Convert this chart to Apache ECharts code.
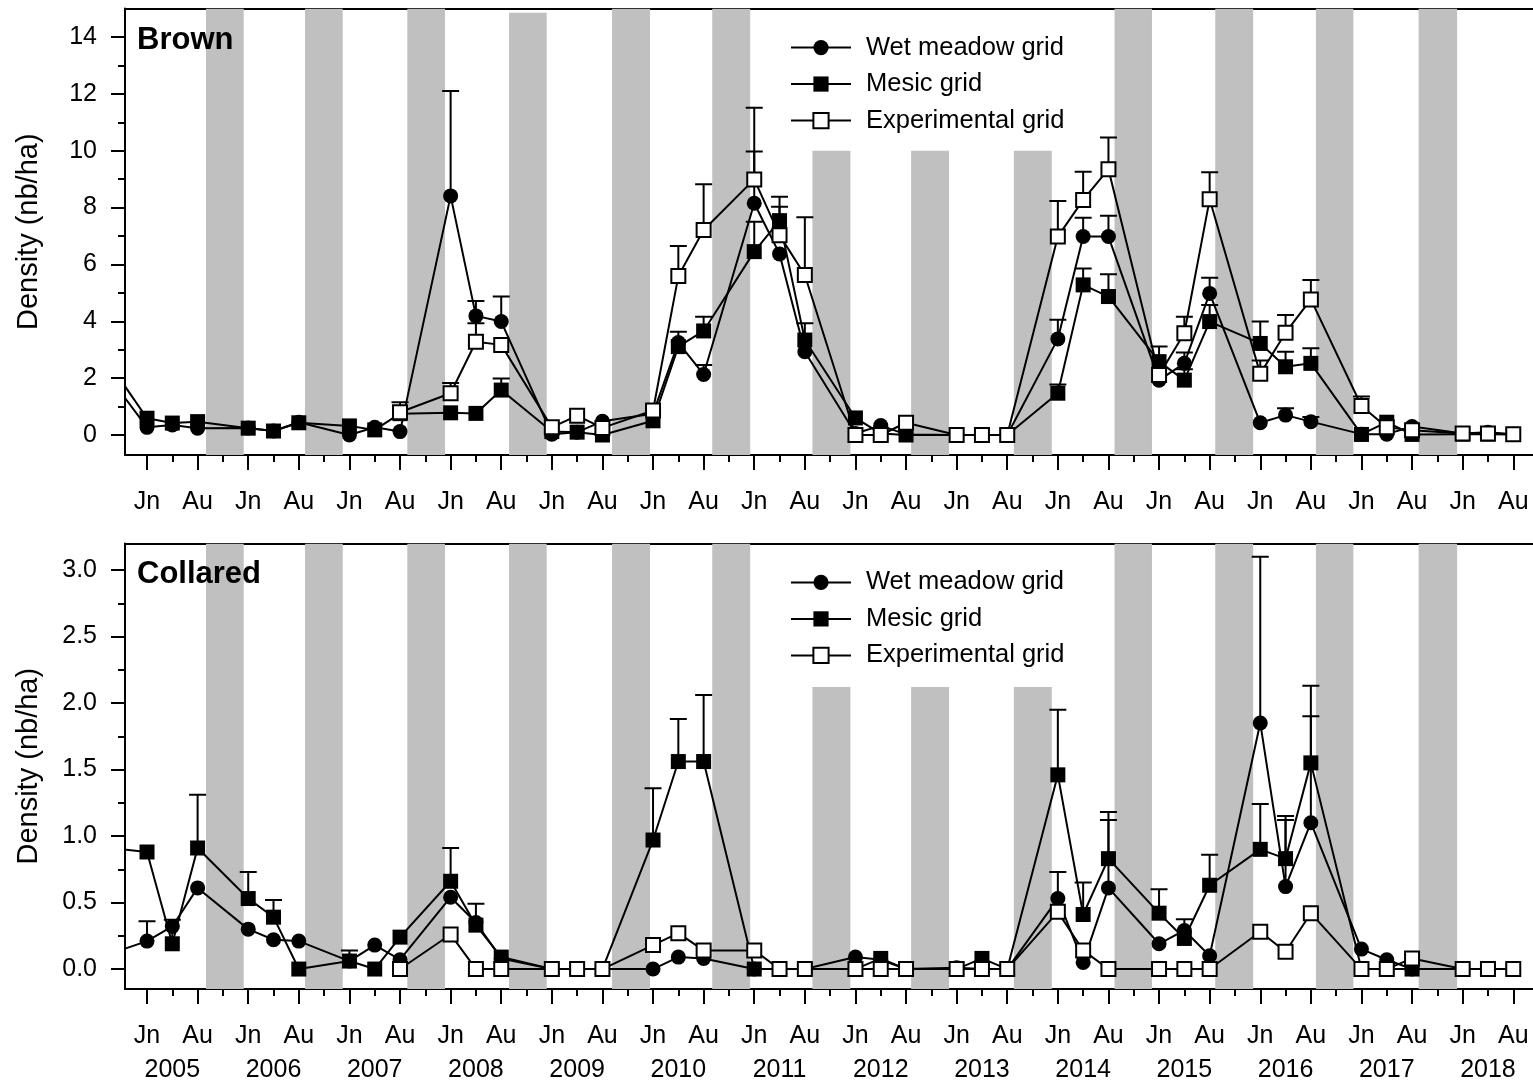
<!DOCTYPE html>
<html><head><meta charset="utf-8">
<script src="https://cdn.jsdelivr.net/npm/echarts@6/dist/echarts.min.js"></script>
<style>html,body{margin:0;padding:0;background:#fff}#c{width:1533px;height:1083px}</style>
</head><body><div id="c"></div>
<script>
// ---------------- DATA ----------------
const years = [2005,2006,2007,2008,2009,2010,2011,2012,2013,2014,2015,2016,2017,2018];
const seasons = ['Jn','Jl','Au'];
const seasonOffset = [0, 0.5, 1];      // position of each sampling session within a year slot
const monthLabels = ['Jn','Au'];
const seriesNames = ['Wet meadow grid','Mesic grid','Experimental grid'];
const panelNames = ['Brown','Collared'];

// first value = Aug 2004 (off the left edge), then Jn, Jl, Au for 2005..2018
const brownWet = [2.64, 0.27,0.35,0.24, 0.25,0.14,0.45, 0.0,0.27,0.12, 8.41,4.19,3.99, 0.03,0.1,0.48, 0.75,3.25,2.13, 8.15,6.37,2.93, 0.05,0.33,0.02, 0,0,0, 3.38,6.98,6.98, 1.93,2.52,4.98, 0.43,0.7,0.47, 0.03,0.03,0.3, 0.05,0.1,0.03];
const brownWetErr = [null, null,null,null, null,null,null, null,null,null, 12.1,4.71,4.87, null,null,null, null,3.63,2.46, 9.97,null,null, null,null,null, null,null,null, 4.05,7.64,7.71, null,2.9,5.53, null,0.94,0.63, null,null,null, null,null,null];
const brownMesic = [3.17, 0.59,0.42,0.47, 0.24,0.14,0.43, 0.32,0.18,0.75, 0.78,0.76,1.58, 0.12,0.1,0.0, 0.5,3.11,3.66, 6.45,7.54,3.34, 0.6,0.05,0.0, 0,0,0, 1.47,5.28,4.87, 2.58,1.93,3.99, 3.22,2.4,2.52, 0.02,0.45,0.02, 0.03,0.03,0.02];
const brownMesicErr = [null, null,null,null, null,null,null, null,null,null, null,null,1.99, null,null,null, null,null,4.16, 7.5,8.38,3.93, null,null,null, null,null,null, 1.78,5.86,5.65, 3.11,2.31,4.57, 3.99,2.93,3.05, null,null,null, null,null,null];
const brownExp = [null, null,null,null, null,null,null, null,null,0.8, 1.47,3.28,3.17, 0.27,0.68,0.25, 0.86,5.59,7.21, 8.99,7.03,5.63, 0,0,0.43, 0,0,0, 6.98,8.27,9.35, 2.11,3.58,8.29, 2.15,3.6,4.77, 1.02,0.27,0.17, 0.05,0.05,0.03];
const brownExpErr = [null, null,null,null, null,null,null, null,null,1.15, 1.83,3.93,null, null,null,null, null,6.65,8.82, 11.51,8.03,7.66, null,null,null, null,null,null, 8.23,9.26,10.46, null,4.16,9.24, 2.62,4.22,5.45, 1.35,null,null, null,null,null];

const collWet = [0.08, 0.21,0.32,0.61, 0.3,0.22,0.21, 0.06,0.18,0.07, 0.54,0.35,0.08, 0,0,0, 0,0.09,0.08, 0,0,0, 0.09,0.07,0, 0.01,0,0, 0.53,0.05,0.61, 0.19,0.29,0.1, 1.85,0.62,1.1, 0.15,0.07,0, 0,0,0];
const collWetErr = [null, 0.36,null,null, null,null,null, null,null,null, null,null,null, null,null,null, null,null,null, null,null,null, null,null,null, null,null,null, 0.73,null,1.12, null,null,null, 3.1,1.12,1.9, null,null,null, null,null,null];
const collMesic = [0.92, 0.88,0.19,0.91, 0.53,0.39,0.0, 0.06,0.0,0.24, 0.66,0.33,0.09, 0,0,0, 0.97,1.56,1.56, 0,0,0, 0,0.08,0, 0,0.08,0, 1.46,0.41,0.83, 0.42,0.23,0.63, 0.9,0.83,1.55, 0,0,0, 0,0,0];
const collMesicErr = [null, null,0.37,1.31, 0.73,0.52,null, 0.14,null,null, 0.91,0.49,null, null,null,null, 1.36,1.88,2.06, null,null,null, null,null,null, null,null,null, 1.95,0.65,1.18, 0.6,0.375,0.86, 1.24,1.15,2.13, null,null,null, null,null,null];
const collExp = [null, null,null,null, null,null,null, null,null,0, 0.26,0,0, 0,0,0, 0.18,0.27,0.14, 0.14,0,0, 0,0,0, 0,0,0, 0.43,0.14,0, 0,0,0, 0.28,0.13,0.42, 0,0,0.08, 0,0,0];
const collExpErr = new Array(43).fill(null);

// winter (shaded) periods: start / end positions on the session axis, and bar heights
const winterStart = [1.166, 3.123, 5.144, 7.154, 9.19, 11.17, 13.15, 15.1, 17.13, 19.12, 21.11, 23.1, 25.13];
const winterEnd   = [1.911, 3.868, 5.889, 7.899, 9.941, 11.92, 13.9, 15.85, 17.88, 19.86, 21.86, 23.84, 25.89];
const brownWinterTop = [15,15,15,14.85,15,15,10,10,10,15,15,15,15];
const collWinterTop  = [3.2,3.2,3.2,3.2,3.2,3.2,2.12,2.12,2.12,3.2,3.2,3.2,3.2];

// y axis ticks
const brownYTicks = [0,2,4,6,8,10,12,14];
const brownYMinor = [1,3,5,7,9,11,13];
const collYTicks = [0,0.5,1,1.5,2,2.5,3];
const collYMinor = [0.25,0.75,1.25,1.75,2.25,2.75];

// ---------------- BUILD ----------------
const FONT = 'Liberation Sans, Arial, sans-serif';
const xs = [-1].concat(years.flatMap((y, i) => seasonOffset.map(o => 2 * i + o)));
const majorTicks = years.flatMap((y, i) => [2 * i, 2 * i + 1]);
const minorTicks = years.flatMap((y, i) => [2 * i + 0.5, 2 * i + 1.5]).filter(v => v < 27.2);
const yearPos = years.map((y, i) => 2 * i + 0.5);
const X_MIN = -0.435, X_MAX = 27.39;

const panels = [
  { name: panelNames[0], top: 8.55, height: 446.35, ymin: -0.7, ymax: 15, ticks: brownYTicks, minor: brownYMinor,
    fmt: v => String(v), winterTop: brownWinterTop,
    vals: [brownWet, brownMesic, brownExp], errs: [brownWetErr, brownMesicErr, brownExpErr] },
  { name: panelNames[1], top: 543.4, height: 446.6, ymin: -0.15, ymax: 3.2, ticks: collYTicks, minor: collYMinor,
    fmt: v => v.toFixed(1), winterTop: collWinterTop,
    vals: [collWet, collMesic, collExp], errs: [collWetErr, collMesicErr, collExpErr] }
];

const grid = [], xAxis = [], yAxis = [], series = [], legend = [], title = [];
const symbols = ['circle', 'rect', 'rect'];
const fills = ['#000', '#000', '#fff'];
const sizes = [15, 15, 14];

panels.forEach((p, g) => {
  grid.push({ left: 125, width: 1408, top: p.top, height: p.height });
  const xMain = xAxis.length;
  xAxis.push({
    type: 'value', gridIndex: g, min: X_MIN, max: X_MAX, position: 'bottom',
    axisLine: { show: true, onZero: false, lineStyle: { color: '#000', width: 2 } },
    axisTick: { show: true, customValues: majorTicks, length: 15, lineStyle: { color: '#000', width: 2 } },
    axisLabel: { show: true, customValues: majorTicks, margin: 35, color: '#000', fontSize: 25, fontFamily: FONT,
      formatter: v => monthLabels[Math.round(v) % 2] },
    splitLine: { show: false }
  });
  xAxis.push({
    type: 'value', gridIndex: g, min: X_MIN, max: X_MAX, position: 'bottom',
    axisLine: { show: false, onZero: false },
    axisTick: { show: true, customValues: minorTicks, length: 7, lineStyle: { color: '#000', width: 2 } },
    axisLabel: { show: false }, splitLine: { show: false }
  });
  xAxis.push({
    type: 'value', gridIndex: g, min: X_MIN, max: X_MAX, position: 'top',
    axisLine: { show: true, onZero: false, lineStyle: { color: '#000', width: 2 } },
    axisTick: { show: false }, axisLabel: { show: false }, splitLine: { show: false }
  });
  if (g === 1) {
    xAxis.push({
      type: 'value', gridIndex: g, min: X_MIN, max: X_MAX, position: 'bottom',
      axisLine: { show: false, onZero: false }, axisTick: { show: false },
      axisLabel: { show: true, customValues: yearPos, margin: 69, color: '#000', fontSize: 25, fontFamily: FONT,
        formatter: v => String(years[Math.round((v - 0.5) / 2)]) },
      splitLine: { show: false }
    });
  }
  const yMain = yAxis.length;
  yAxis.push({
    type: 'value', gridIndex: g, min: p.ymin, max: p.ymax, position: 'left',
    name: 'Density (nb/ha)', nameLocation: 'middle', nameGap: 82,
    nameTextStyle: { fontSize: 29, fontFamily: FONT, color: '#000' },
    axisLine: { show: true, onZero: false, lineStyle: { color: '#000', width: 2 } },
    axisTick: { show: true, customValues: p.ticks, length: 14, lineStyle: { color: '#000', width: 2 } },
    axisLabel: { show: true, customValues: p.ticks, margin: 28, color: '#000', fontSize: 25, fontFamily: FONT, formatter: p.fmt },
    splitLine: { show: false }
  });
  yAxis.push({
    type: 'value', gridIndex: g, min: p.ymin, max: p.ymax, position: 'left',
    axisLine: { show: false, onZero: false },
    axisTick: { show: true, customValues: p.minor, length: 7, lineStyle: { color: '#000', width: 2 } },
    axisLabel: { show: false }, splitLine: { show: false }
  });

  // winter shading
  const ymin = p.ymin;
  series.push({
    type: 'custom', xAxisIndex: xMain, yAxisIndex: yMain, z: 1, silent: true, clip: true,
    encode: { x: [0, 1], y: 2 },
    data: winterStart.map((s, i) => [s, winterEnd[i], p.winterTop[i]]),
    renderItem: (params, api) => {
      const a = api.coord([api.value(0), api.value(2)]);
      const b = api.coord([api.value(1), ymin]);
      return { type: 'rect', shape: { x: a[0], y: a[1], width: b[0] - a[0], height: b[1] - a[1] },
        style: { fill: '#c0c0c0' } };
    }
  });

  // error bars
  p.errs.forEach((errArr, k) => {
    const d = [];
    errArr.forEach((e, i) => { if (e != null && p.vals[k][i] != null) d.push([xs[i], p.vals[k][i], e]); });
    series.push({
      type: 'custom', xAxisIndex: xMain, yAxisIndex: yMain, z: 2, silent: true, clip: true,
      encode: { x: 0, y: [1, 2] }, data: d,
      renderItem: (params, api) => {
        const a = api.coord([api.value(0), api.value(1)]);
        const b = api.coord([api.value(0), api.value(2)]);
        return { type: 'group', children: [
          { type: 'line', shape: { x1: a[0], y1: a[1], x2: b[0], y2: b[1] }, style: { stroke: '#000', lineWidth: 2 } },
          { type: 'line', shape: { x1: b[0] - 8.5, y1: b[1], x2: b[0] + 8.5, y2: b[1] }, style: { stroke: '#000', lineWidth: 2 } }
        ] };
      }
    });
  });

  // lines
  p.vals.forEach((arr, k) => {
    const d = [];
    arr.forEach((v, i) => { if (v != null) d.push([xs[i], v]); });
    series.push({
      type: 'line', name: seriesNames[k], xAxisIndex: xMain, yAxisIndex: yMain, z: 3 + k,
      data: d, symbol: symbols[k], symbolSize: sizes[k], showAllSymbol: true, clip: true,
      lineStyle: { color: '#000', width: 2 },
      itemStyle: { color: fills[k], borderColor: '#000', borderWidth: k === 2 ? 2 : 0, opacity: 1 },
      emphasis: { disabled: true }
    });
  });

  legend.push({
    left: 790, top: p.top + 26, orient: 'vertical', itemWidth: 60, itemHeight: 19, itemGap: 10.5,
    data: seriesNames, selectedMode: false, padding: 0,
    textStyle: { fontSize: 25.5, fontFamily: FONT, color: '#000', lineHeight: 25, padding: [0, 0, 0, 10] }
  });
  title.push({
    text: p.name, left: 137, top: p.top + 16, padding: 0,
    textStyle: { fontSize: 31, fontWeight: 'bold', fontFamily: FONT, color: '#000' }
  });
});

const chart = echarts.init(document.getElementById('c'), null, { renderer: 'canvas' });
chart.setOption({ animation: false, backgroundColor: '#fff', grid, xAxis, yAxis, series, legend, title });
</script>
</body></html>
